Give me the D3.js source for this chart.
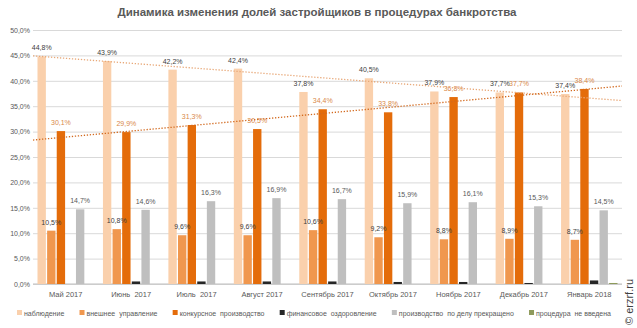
<!DOCTYPE html>
<html>
<head>
<meta charset="utf-8">
<script src="https://cdn.jsdelivr.net/npm/d3@7"></script>
<style>
  body { margin: 0; background: #fff; }
  svg text { font-family: "Liberation Sans", Arial, sans-serif; white-space: pre; }
</style>
</head>
<body>
<div id="chart"></div>
<script>
// months (categories)
const months = ['Май 2017', 'Июнь  2017', 'Июль  2017', 'Август 2017', 'Сентябрь 2017',
  'Октябрь 2017', 'Ноябрь 2017', 'Декабрь 2017', 'Январь 2018'];

// series names
const seriesNames = ['наблюдение', 'внешнее  управление', 'конкурсное  производство',
  'финансовое  оздоровление', 'производство  по делу прекращено', 'процедура  не введена'];

// values, %
const observation = [44.8, 43.9, 42.2, 42.4, 37.8, 40.5, 37.9, 37.7, 37.4];
const externalMgmt = [10.5, 10.8, 9.6, 9.6, 10.6, 9.2, 8.8, 8.9, 8.7];
const competitive = [30.1, 29.9, 31.3, 30.5, 34.4, 33.8, 36.8, 37.7, 38.4];
const recovery = [0, 0.5, 0.5, 0.5, 0.5, 0.4, 0.4, 0.2, 0.7];
const terminated = [14.7, 14.6, 16.3, 16.9, 16.7, 15.9, 16.1, 15.3, 14.5];
const notIntroduced = [0, 0, 0, 0, 0, 0, 0, 0, 0.2];

const yTicks = [0, 5, 10, 15, 20, 25, 30, 35, 40, 45, 50];

const colors = ['#FAD0AC', '#F0974E', '#E46C0A', '#262626', '#BFBFBF', '#8E9A5B'];
const labelColors = ['#404040', '#404040', '#D9894A', null, '#595959', null];

const seriesData = [observation, externalMgmt, competitive, recovery, terminated, notIntroduced];

const width = 637, height = 328;
const margin = { left: 33, right: 15, top: 30, bottom: 44 };

const svg = d3.select('#chart').append('svg')
  .attr('width', width)
  .attr('height', height);

const x0 = d3.scaleBand()
  .domain(months)
  .range([margin.left, width - margin.right]);

const x1 = d3.scaleBand()
  .domain(d3.range(seriesNames.length))
  .range([4.5, x0.bandwidth() - 4.5])
  .paddingInner(0.13);

const y = d3.scaleLinear()
  .domain([0, 50])
  .range([height - margin.bottom, margin.top]);

// Title
svg.append('text')
  .attr('x', 317)
  .attr('y', 16)
  .attr('text-anchor', 'middle')
  .style('font-weight', 'bold')
  .style('font-size', '11.5px')
  .style('fill', '#595959')
  .text('Динамика изменения долей застройщиков в процедурах банкротства');

// Gridlines + y axis labels
const yAxis = d3.axisLeft(y)
  .tickValues(yTicks)
  .tickSize(-(width - margin.left - margin.right))
  .tickPadding(3)
  .tickFormat(d => d3.format('.1f')(d).replace('.', ',') + '%');

svg.append('g')
  .attr('transform', `translate(${margin.left},0)`)
  .call(yAxis)
  .call(g => g.select('.domain').remove())
  .call(g => g.selectAll('.tick line').attr('stroke', '#D9D9D9').attr('stroke-width', 1))
  .call(g => g.selectAll('.tick text')
    .style('font-size', '7px')
    .style('fill', '#595959')
    .style('font-family', '"Liberation Sans", Arial, sans-serif'));

// bottom axis line
svg.append('line')
  .attr('x1', margin.left)
  .attr('x2', width - margin.right)
  .attr('y1', y(0))
  .attr('y2', y(0))
  .attr('stroke', '#BFBFBF');

// Bars
const groups = svg.append('g').selectAll('g')
  .data(months)
  .join('g')
  .attr('transform', d => `translate(${x0(d)},0)`);

groups.selectAll('rect')
  .data((d, i) => seriesData.map((s, k) => ({ k, v: s[i] })))
  .join('rect')
  .attr('x', d => x1(d.k))
  .attr('y', d => y(d.v))
  .attr('width', x1.bandwidth())
  .attr('height', d => y(0) - y(d.v))
  .attr('fill', d => colors[d.k]);

// Data labels
groups.selectAll('text.lbl')
  .data((d, i) => seriesData.map((s, k) => ({ k, v: s[i] })).filter(d => labelColors[d.k]))
  .join('text')
  .attr('class', 'lbl')
  .attr('x', d => x1(d.k) + x1.bandwidth() / 2)
  .attr('y', d => y(d.v) - 6)
  .attr('text-anchor', 'middle')
  .style('font-size', '7px')
  .style('fill', d => labelColors[d.k])
  .text(d => d3.format('.1f')(d.v).replace('.', ',') + '%');

// Linear trend lines (least squares over category index)
function trend(values) {
  const xs = values.map((v, i) => i + 1);
  const mx = d3.mean(xs), my = d3.mean(values);
  const slope = d3.sum(xs, (xv, i) => (xv - mx) * (values[i] - my)) / d3.sum(xs, xv => (xv - mx) ** 2);
  const f = t => my + slope * (t - mx);
  return [[0.5, f(0.5)], [months.length + 0.5, f(months.length + 0.5)]];
}

const xCont = d3.scaleLinear()
  .domain([0.5, months.length + 0.5])
  .range([margin.left, width - margin.right]);

const line = d3.line().x(d => xCont(d[0])).y(d => y(d[1]));

svg.append('path')
  .attr('d', line(trend(observation)))
  .attr('fill', 'none')
  .attr('stroke', '#E8A878')
  .attr('stroke-width', 1.3)
  .attr('stroke-dasharray', '1.3,1.7');

svg.append('path')
  .attr('d', line(trend(competitive)))
  .attr('fill', 'none')
  .attr('stroke', '#D2691E')
  .attr('stroke-width', 1.3)
  .attr('stroke-dasharray', '1.3,1.7');

// Month labels
svg.append('g').selectAll('text')
  .data(months)
  .join('text')
  .attr('x', d => x0(d) + x0.bandwidth() / 2)
  .attr('y', 297)
  .attr('text-anchor', 'middle')
  .style('font-size', '7.5px')
  .style('fill', '#595959')
  .text(d => d);

// Legend
const legend = svg.append('g');
const items = legend.selectAll('g')
  .data(seriesNames)
  .join('g');

items.append('rect')
  .attr('y', 310)
  .attr('width', 5)
  .attr('height', 5)
  .attr('fill', (d, i) => colors[i]);

items.append('text')
  .attr('x', 7)
  .attr('y', 315.5)
  .style('font-size', '7px')
  .style('fill', '#595959')
  .text(d => d);

const widths = [];
items.select('text').each(function () { widths.push(this.getComputedTextLength() + 7); });
const legStart = 17, legEnd = 611;
const gap = (legEnd - legStart - d3.sum(widths)) / (widths.length - 1);
let cx = legStart;
items.attr('transform', (d, i) => {
  const t = `translate(${cx},0)`;
  cx += widths[i] + gap;
  return t;
});

// Watermark
svg.append('text')
  .attr('transform', 'translate(633,325) rotate(-90)')
  .style('font-size', '11px')
  .style('fill', '#404040')
  .text('© erzrf.ru');
</script>
</body>
</html>
